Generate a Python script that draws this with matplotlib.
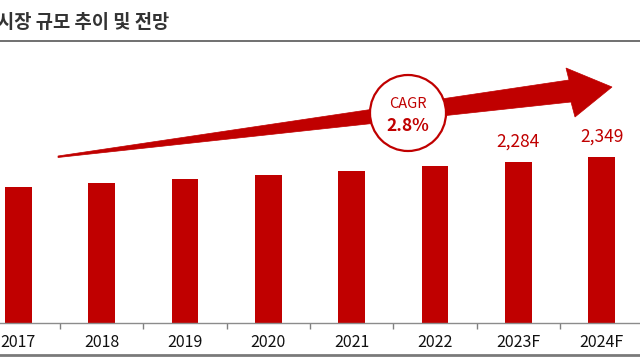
import matplotlib
matplotlib.use("Agg")
import matplotlib.pyplot as plt
from matplotlib.patches import Polygon, Ellipse
from matplotlib.lines import Line2D

plt.rcParams['font.family'] = ['Noto Sans CJK KR', 'DejaVu Sans']

# data
years = ["2017", "2018", "2019", "2020", "2021", "2022", "2023F", "2024F"]
market_size = [1930, 1985, 2040, 2100, 2160, 2220, 2284, 2349]
labelled = {"2023F": "2,284", "2024F": "2,349"}
title = "시장 규모 추이 및 전망"
cagr_text = "2.8%"

RED = "#C00000"
W, H = 640, 360


def px(x, y):
    # pixel (from top-left) -> figure fraction
    return (x / W, 1 - y / H)


fig = plt.figure(figsize=(6.4, 3.6), dpi=100)
ax = fig.add_axes([0, (H - 323) / H, 1, (323 - 40) / H])

xs = list(range(len(years)))
ax.bar(xs, market_size, width=0.32, color=RED, zorder=2)
for x, yr, v in zip(xs, years, market_size):
    if yr in labelled:
        ax.annotate(labelled[yr], (x, v), xytext=(0, 8), textcoords="offset points",
                    ha="center", va="bottom", color=RED, fontsize=12.5,
                    fontweight="medium")

ax.set_xlim(-0.22, 7.46)
ax.set_ylim(0, 4010)
ax.set_xticks(xs)
ax.set_xticklabels(years, fontsize=11.5, color="#111111")
ax.tick_params(axis="x", which="major", length=0, pad=8)
ax.set_xticks([i + 0.5 for i in xs[:-1]], minor=True)
ax.tick_params(axis="x", which="minor", length=4.5, color="#808080", width=1)
ax.set_yticks([])
for s in ["top", "left", "right"]:
    ax.spines[s].set_visible(False)
ax.spines["bottom"].set_color("#8c8c8c")
ax.spines["bottom"].set_linewidth(1.0)

# title and rules
fig.text(*px(-3, 22), title, fontsize=13.5, fontweight="bold", color="#333333",
         ha="left", va="center")
fig.add_artist(Line2D([0, 1], [px(0, 41)[1]] * 2, color="#707070", lw=1.4,
                      transform=fig.transFigure))
fig.add_artist(Line2D([0, 1], [px(0, 354.5)[1]] * 2, color="#7a7a7a", lw=2.0,
                      transform=fig.transFigure))

# growth arrow
arrow_pts = [px(58, 156), px(569, 80), px(566, 68), px(612, 87),
             px(575, 117), px(571, 102), px(58, 157.5)]
fig.add_artist(Polygon(arrow_pts, closed=True, facecolor=RED, edgecolor=RED,
                       lw=0.5, transform=fig.transFigure, zorder=3))

# CAGR badge
cx, cy = px(408, 113)
fig.add_artist(Ellipse((cx, cy), 2 * 38 / W, 2 * 38 / H, facecolor="white",
                       edgecolor=RED, lw=1.6, transform=fig.transFigure, zorder=4))
fig.text(*px(408, 104), "CAGR", fontsize=10.5, color=RED, ha="center", va="center", zorder=5)
fig.text(*px(408, 126), cagr_text, fontsize=12.5, fontweight="bold", color=RED,
         ha="center", va="center", zorder=5)

fig.savefig("out.png", dpi=100)
